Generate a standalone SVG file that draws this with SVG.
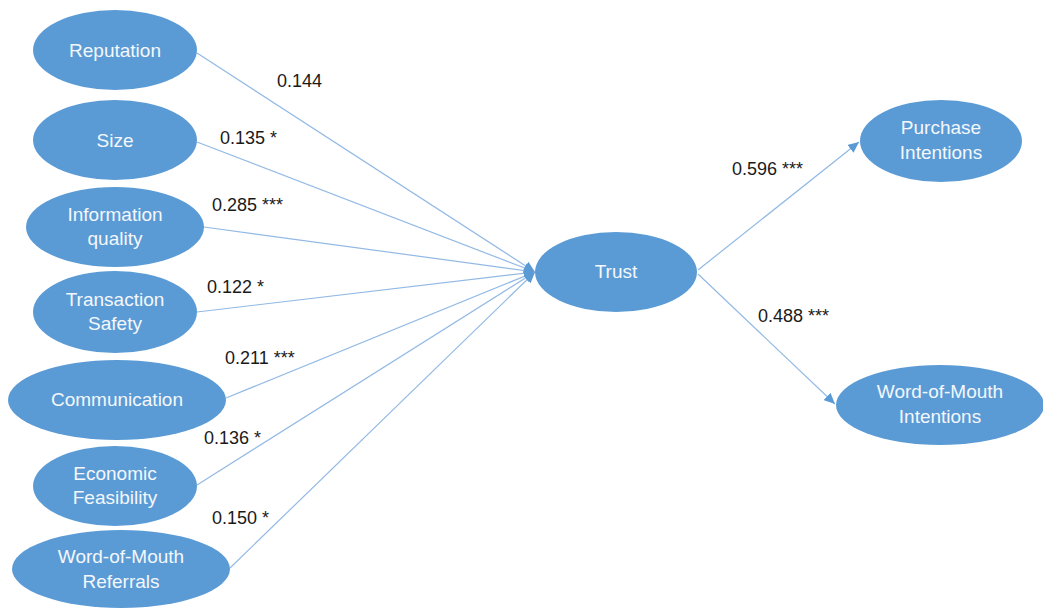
<svg xmlns="http://www.w3.org/2000/svg" width="1043" height="608" viewBox="0 0 1043 608">
<style>
.node ellipse{fill:#5b9bd5;}
.node text{font-family:"Liberation Sans",Arial,sans-serif;font-size:19px;fill:#f4f7fb;text-anchor:middle;}
.lbl{font-family:"Liberation Sans",Arial,sans-serif;font-size:18px;fill:#1a1a1a;}
.conn line{stroke:#92b9e4;stroke-width:1.2;fill:none;marker-end:url(#ah);}
</style>
<defs>
<marker id="ah" markerUnits="userSpaceOnUse" markerWidth="12" markerHeight="10" refX="11" refY="5" orient="auto">
<path d="M0,0 L11,5 L0,10 z" fill="#5b9bd5"/>
</marker>
</defs>
<rect width="1043" height="608" fill="#ffffff"/>
<g id="connectors" class="conn">
<line x1="197" y1="53" x2="535" y2="272"/>
<line x1="197" y1="142" x2="535" y2="272"/>
<line x1="204" y1="227" x2="535" y2="272"/>
<line x1="197" y1="312" x2="535" y2="272"/>
<line x1="226" y1="398" x2="535" y2="272"/>
<line x1="197" y1="485" x2="535" y2="272"/>
<line x1="230" y1="568" x2="535" y2="272"/>
<line x1="698" y1="270" x2="859" y2="142"/>
<line x1="698" y1="274" x2="835" y2="404"/>
</g>
<g id="labels">
<text class="lbl" x="277" y="87">0.144</text>
<text class="lbl" x="220" y="144">0.135 *</text>
<text class="lbl" x="212" y="211">0.285 ***</text>
<text class="lbl" x="207" y="293">0.122 *</text>
<text class="lbl" x="225" y="364">0.211 ***</text>
<text class="lbl" x="204" y="444">0.136 *</text>
<text class="lbl" x="212" y="524">0.150 *</text>
<text class="lbl" x="732" y="175">0.596 ***</text>
<text class="lbl" x="758" y="322">0.488 ***</text>
</g>
<g id="reputation" class="node"><ellipse cx="115" cy="50" rx="82" ry="40"/><text x="115" y="57">Reputation</text></g>
<g id="size" class="node"><ellipse cx="115" cy="140" rx="82" ry="40"/><text x="115" y="147">Size</text></g>
<g id="information-quality" class="node"><ellipse cx="115" cy="227" rx="89" ry="40"/><text x="115" y="221">Information</text><text x="115" y="245">quality</text></g>
<g id="transaction-safety" class="node"><ellipse cx="115" cy="312" rx="82" ry="41"/><text x="115" y="306">Transaction</text><text x="115" y="330">Safety</text></g>
<g id="communication" class="node"><ellipse cx="117" cy="400" rx="109" ry="40"/><text x="117" y="406">Communication</text></g>
<g id="economic-feasibility" class="node"><ellipse cx="115" cy="486" rx="82" ry="40"/><text x="115" y="480">Economic</text><text x="115" y="504">Feasibility</text></g>
<g id="wom-referrals" class="node"><ellipse cx="121" cy="569" rx="109" ry="39"/><text x="121" y="563">Word-of-Mouth</text><text x="121" y="588">Referrals</text></g>
<g id="trust" class="node"><ellipse cx="616" cy="272" rx="81" ry="40"/><text x="616" y="278">Trust</text></g>
<g id="purchase-intentions" class="node"><ellipse cx="941" cy="141" rx="81" ry="41"/><text x="941" y="134">Purchase</text><text x="941" y="159">Intentions</text></g>
<g id="wom-intentions" class="node"><ellipse cx="940" cy="405" rx="104" ry="40"/><text x="940" y="398">Word-of-Mouth</text><text x="940" y="423">Intentions</text></g>
</svg>
